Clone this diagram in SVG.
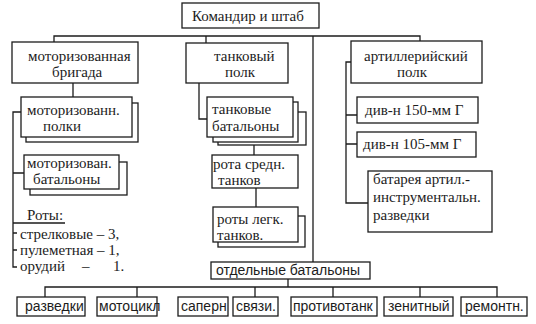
<svg xmlns="http://www.w3.org/2000/svg" width="536" height="324" viewBox="0 0 536 324">
<style>
rect{fill:#fff;stroke:#1c1c1c;stroke-width:1.3}
.c{fill:none;stroke:#1c1c1c;stroke-width:1.3}
text{font-family:"Liberation Serif","Times New Roman",serif;font-size:15px;fill:#1c1c1c}
.s{font-family:"Liberation Sans",Arial,sans-serif;font-size:14px}
</style>
<rect x="0" y="0" width="536" height="324" style="fill:#fff;stroke:none"/>
<g id="connectors">
<path class="c" d="M54 42V36H420V41M206 36V43M313 36V262"/>
<path class="c" d="M73 83V97M21 112H13V267H17M13 173H24M13 223H65M13 233H17M13 250H17"/>
<path class="c" d="M199 83V119H207M254 145V155M256 188V207"/>
<path class="c" d="M351 62H346V203H368M346 115H357M346 144H357"/>
<path class="c" d="M288 279V287M45 297V287H497V297M137 287V297M255 287V297M333 287V297M420 287V297"/>
</g>
<g id="commander"><rect x="182" y="3" width="137" height="25"/><text x="192" y="21">Командир и штаб</text></g>
<g id="brigade"><rect x="12" y="42" width="126" height="41"/><text x="28" y="61">моторизованная</text><text x="52" y="77">бригада</text></g>
<g id="tank-regiment"><rect x="186" y="43" width="102" height="40"/><text x="214" y="61">танковый</text><text x="225" y="77">полк</text></g>
<g id="artillery"><rect x="351" y="41" width="131" height="42"/><text x="364" y="61">артиллерийский</text><text x="397" y="77">полк</text></g>
<g id="moto-regiments"><rect x="26" y="103" width="112" height="39"/><rect x="21" y="97" width="111" height="40"/><text x="27" y="115">моторизованн.</text><text x="43" y="131">полки</text></g>
<g id="moto-battalions"><rect x="30" y="162" width="97" height="33"/><rect x="24" y="155" width="95" height="34"/><text x="27" y="168">моторизован.</text><text x="33" y="184">батальоны</text></g>
<g id="companies"><text x="27" y="220">Роты:</text><text x="20" y="239">стрелковые – 3,</text><text x="20" y="255">пулеметная – 1,</text><text y="271"><tspan x="20">орудий</tspan><tspan x="82">–</tspan><tspan x="113">1.</tspan></text></g>
<g id="tank-battalions"><rect x="218" y="112" width="88" height="33"/><rect x="213" y="102" width="85" height="40"/><rect x="207" y="97" width="86" height="40"/><text x="212" y="114">танковые</text><text x="212" y="131">батальоны</text></g>
<g id="medium-tanks"><rect x="212" y="155" width="86" height="33"/><text x="213" y="169">рота средн.</text><text x="218" y="185">танков</text></g>
<g id="light-tanks"><rect x="218" y="216" width="87" height="31"/><rect x="213" y="207" width="85" height="35"/><text x="217" y="224">роты легк.</text><text x="217" y="240">танков.</text></g>
<g id="div150"><rect x="357" y="97" width="121" height="26"/><text x="365" y="115">див-н 150-мм Г</text></g>
<g id="div105"><rect x="357" y="132" width="119" height="25"/><text x="363" y="149">див-н 105-мм Г</text></g>
<g id="battery"><rect x="368" y="171" width="124" height="61"/><text x="373" y="184">батарея артил.-</text><text x="373" y="202">инструментальн.</text><text x="373" y="220">разведки</text></g>
<g id="separate"><rect x="211" y="262" width="159" height="17"/><text class="s" x="216" y="275">отдельные батальоны</text></g>
<g id="recon"><rect x="17" y="297" width="68" height="19"/><text class="s" x="25" y="311">разведки</text></g>
<g id="moto"><rect x="97" y="297" width="60" height="19"/><text class="s" x="99" y="311">мотоцикл</text></g>
<g id="sapper"><rect x="178" y="297" width="50" height="19"/><text class="s" x="181" y="311">саперн</text></g>
<g id="signal"><rect x="233" y="297" width="45" height="19"/><text class="s" x="236" y="311">связи.</text></g>
<g id="antitank"><rect x="291" y="297" width="86" height="19"/><text class="s" x="293" y="311">противотанк</text></g>
<g id="aa"><rect x="384" y="297" width="69" height="19"/><text class="s" x="388" y="311">зенитный</text></g>
<g id="repair"><rect x="461" y="297" width="66" height="19"/><text class="s" x="465" y="311">ремонтн.</text></g>
</svg>
